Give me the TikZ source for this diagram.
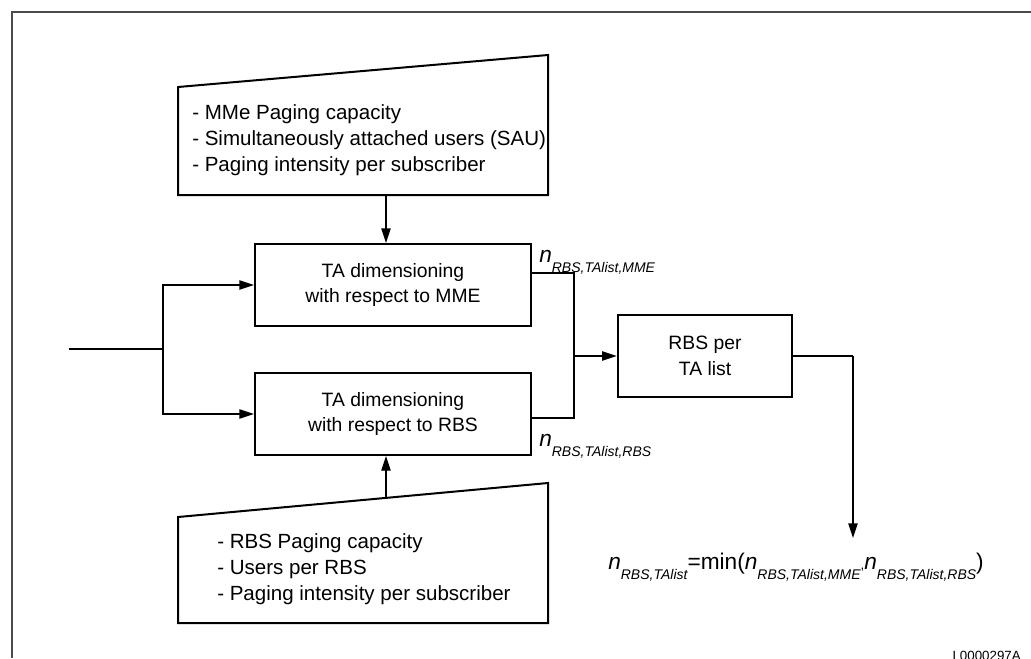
\documentclass[tikz,border=0pt]{standalone}
\usepackage{fontspec}
\setmainfont{Liberation Sans}
\usetikzlibrary{arrows.meta,positioning,calc}

\newcommand{\nsub}[1]{{\fontsize{17}{17}\selectfont\itshape n}\raisebox{-7.5pt}{\fontsize{10.5}{10.5}\selectfont\itshape #1}}

\tikzset{
  box/.style={draw, line width=1.5pt, align=center, font=\fontsize{14.5}{19}\selectfont},
  tabox/.style={box, minimum width=207pt, minimum height=61.5pt},
  listbox/.style={box, minimum width=131pt, minimum height=61.5pt},
  intext/.style={align=left, font=\fontsize{15.4}{19.5}\selectfont, inner sep=0pt},
  trap/.style={line width=1.5pt},
  conn/.style={line width=1pt},
  arr/.style={conn, -{Triangle[length=11pt,width=7pt]}},
}

\begin{document}
\begin{tikzpicture}[x=0.75pt, y=-0.75pt]
  \useasboundingbox (0,0) rectangle (1031,658);
  % frame
  \draw[black!70, line width=1.2pt] (12,658) -- (12,12) -- (1031,12);

  % input boxes
  \draw[trap] (178,87) -- (548,55) -- (548,195) -- (178,195) -- cycle;
  \node[intext, anchor=west] (mmein) at (192,140)
    {- MMe Paging capacity\\- Simultaneously attached users (SAU)\\- Paging intensity per subscriber};
  \draw[trap] (178,517) -- (548,483) -- (548,623) -- (178,623) -- cycle;
  \node[intext, anchor=west] (rbsin) at (217,569)
    {- RBS Paging capacity\\- Users per RBS\\- Paging intensity per subscriber};
  \coordinate (mmebot) at (386,195);
  \coordinate (rbstop) at (386,497);

  % dimensioning
  \node[tabox] (tamme) at (393,285) {TA dimensioning\\with respect to MME};
  \node[tabox] (tarbs) at (393,414) {TA dimensioning\\with respect to RBS};
  \node[listbox] (rbslist) at (705,356) {RBS per\\TA list};

  \draw[arr] (mmebot) -- (mmebot |- tamme.north);
  \draw[arr] (rbstop) -- (rbstop |- tarbs.south);

  % input line
  \coordinate (in) at (69,349);
  \coordinate (split) at (163,349);
  \draw[conn] (in) -- (split);
  \draw[arr] (split) |- (tamme.west);
  \draw[arr] (split) |- (tarbs.west);

  % merge
  \coordinate (mmeout) at (531,273);
  \coordinate (rbsout) at (531,418);
  \coordinate (join) at (574,356);
  \draw[conn] (mmeout) -| (join) |- (rbsout);
  \draw[arr] (join) -- (rbslist.west);

  \node[anchor=base west, inner sep=0pt] (nmme) at (539,262) {\nsub{RBS,TAlist,MME}};
  \node[anchor=base west, inner sep=0pt] (nrbs) at (539,446) {\nsub{RBS,TAlist,RBS}};

  % result
  \node[anchor=base west, inner sep=0pt] (minf) at (608,569)
    {\nsub{RBS,TAlist}{\fontsize{17}{17}\selectfont =min(}\nsub{RBS,TAlist,MME},\nsub{RBS,TAlist,RBS}{\fontsize{17}{17}\selectfont )}};
  \coordinate (turn) at (853,356);
  \coordinate (minend) at (853,538);
  \draw[conn] (rbslist.east) -- (turn);
  \draw[arr] (turn) -- (minend);

  \node[anchor=base east, font=\fontsize{10}{10}\selectfont, inner sep=0pt] (fig) at (1021,660) {L0000297A};
\end{tikzpicture}
\end{document}
